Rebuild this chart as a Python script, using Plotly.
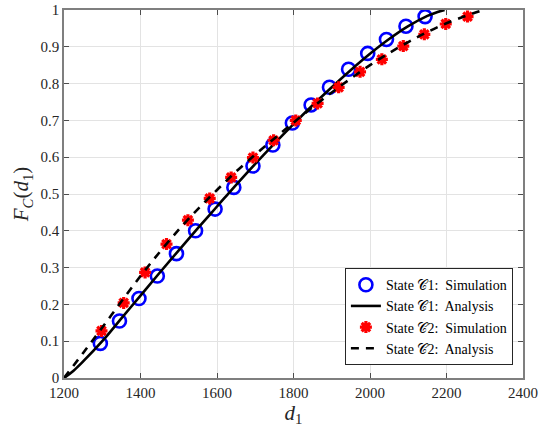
import plotly.graph_objects as go

# Simulation points
c1_sim_x = [1295, 1345, 1396, 1444, 1494, 1544, 1595, 1644, 1694, 1746, 1797, 1846, 1894, 1944, 1994, 2043, 2094, 2144]
c1_sim_y = [0.094, 0.155, 0.216, 0.277, 0.338, 0.400, 0.459, 0.518, 0.576, 0.633, 0.693, 0.742, 0.790, 0.839, 0.882, 0.920, 0.956, 0.982]
c2_sim_x = [1298, 1356, 1412, 1468, 1524, 1581, 1637, 1694, 1748, 1806, 1863, 1918, 1974, 2031, 2087, 2142, 2198, 2255]
c2_sim_y = [0.128, 0.204, 0.287, 0.364, 0.429, 0.488, 0.545, 0.599, 0.646, 0.700, 0.746, 0.790, 0.832, 0.866, 0.902, 0.934, 0.962, 0.982]

# Analysis curves
c1_ana_x = [1200, 1225, 1250, 1300, 1350, 1400, 1450, 1500, 1550, 1600, 1650, 1700, 1750, 1800, 1850, 1900, 1950, 2000, 2050, 2100, 2150, 2175, 2195]
c1_ana_y = [0.0, 0.02, 0.045, 0.100, 0.162, 0.224, 0.286, 0.347, 0.407, 0.466, 0.525, 0.582, 0.637, 0.690, 0.741, 0.790, 0.837, 0.881, 0.921, 0.956, 0.984, 0.994, 1.0]
c2_ana_x = [1200, 1250, 1300, 1350, 1400, 1450, 1500, 1550, 1600, 1650, 1700, 1750, 1800, 1850, 1900, 1950, 2000, 2050, 2100, 2150, 2200, 2250, 2290]
c2_ana_y = [0.0, 0.068, 0.137, 0.208, 0.277, 0.342, 0.403, 0.459, 0.511, 0.561, 0.607, 0.651, 0.694, 0.736, 0.776, 0.814, 0.850, 0.883, 0.913, 0.940, 0.964, 0.984, 0.998]

x_ticks = [1200, 1400, 1600, 1800, 2000, 2200, 2400]
y_ticks = [0, 0.1, 0.2, 0.3, 0.4, 0.5, 0.6, 0.7, 0.8, 0.9, 1]
y_tick_text = ["0", "0.1", "0.2", "0.3", "0.4", "0.5", "0.6", "0.7", "0.8", "0.9", "1"]

FONT = "'Liberation Serif', 'DejaVu Serif', serif"

fig = go.Figure()
fig.add_trace(go.Scatter(x=c1_sim_x, y=c1_sim_y, mode="markers",
                         name="State 𝒞1:  Simulation",
                         marker=dict(symbol="circle-open", size=13, color="#0000ff", line=dict(width=2.6, color="#0000ff"))))
fig.add_trace(go.Scatter(x=c1_ana_x, y=c1_ana_y, mode="lines", line_shape="spline",
                         name="State 𝒞1:  Analysis",
                         line=dict(color="black", width=2.6)))
fig.add_trace(go.Scatter(x=c2_sim_x, y=c2_sim_y, mode="markers",
                         name="State 𝒞2:  Simulation",
                         marker=dict(symbol="asterisk-open", size=10, color="#ff0000", line=dict(width=3.2, color="#ff0000"))))
fig.add_trace(go.Scatter(x=c2_ana_x, y=c2_ana_y, mode="lines", line_shape="spline",
                         name="State 𝒞2:  Analysis",
                         line=dict(color="black", width=2.6, dash="8px,7px")))

axis_common = dict(showgrid=True, gridcolor="#e3e3e3", gridwidth=1, automargin=False,
                   showline=True, linecolor="#7f7f7f", linewidth=1.5, mirror="ticks",
                   ticks="inside", ticklen=5, tickcolor="#4d4d4d", zeroline=False,
                   tickfont=dict(family=FONT, size=15, color="#262626"))

fig.update_xaxes(range=[1200, 2400], tickvals=x_ticks, ticktext=[str(v) for v in x_ticks],
                 title=dict(text="<i>d</i><sub>1</sub>", font=dict(family=FONT, size=21, color="#262626"), standoff=5),
                 **axis_common)
fig.update_yaxes(range=[0, 1], tickvals=y_ticks, ticktext=y_tick_text,
                 title=dict(text="<i>F</i><sub><i>C</i></sub>(<i>d</i><sub>1</sub>)", font=dict(family=FONT, size=21, color="#262626"), standoff=6),
                 **axis_common)

fig.update_layout(width=543, height=431, paper_bgcolor="white", plot_bgcolor="white",
                  margin=dict(l=64, r=20, t=10, b=53),
                  font=dict(family=FONT, color="#262626"),
                  legend=dict(x=0.978, y=0.035, xanchor="right", yanchor="bottom",
                              bgcolor="white", bordercolor="#262626", borderwidth=1,
                              font=dict(family=FONT, size=14, color="black"),
                              tracegroupgap=0, itemwidth=30))

fig.write_html("out.html", config={"displayModeBar": False},
               post_script="document.body.style.margin='0';document.body.style.overflow='hidden';")
